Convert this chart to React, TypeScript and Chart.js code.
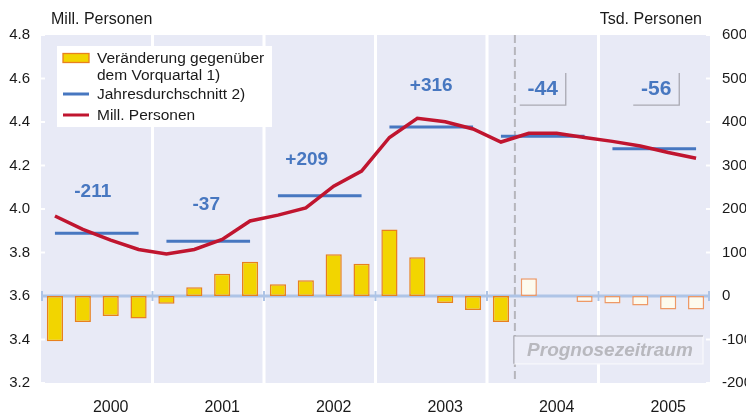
import React, { useEffect, useRef } from "react";
import { Chart, registerables } from "chart.js";

Chart.register(...registerables);

// ---------- data ----------
const years = ["2000", "2001", "2002", "2003", "2004", "2005"];
const quarterNames = ["Q1", "Q2", "Q3", "Q4"];
const quarters = years.flatMap((y) => quarterNames.map((q) => `${y} ${q}`));

// Veränderung gegenüber dem Vorquartal (Tsd. Personen, right axis)
const changeValues = [
  -104, -60, -46, -52,
  -18, 20, 51, 79,
  27, 36, 96, 74,
  153, 89, -16, -32,
  -60, 41, 0, -14,
  -17, -22, -31, -31,
];

// Mill. Personen (left axis)
const millPersonen = [
  3.968, 3.906, 3.857, 3.814,
  3.793, 3.814, 3.86, 3.945,
  3.972, 4.005, 4.105, 4.174,
  4.329, 4.417, 4.401, 4.368,
  4.308, 4.348, 4.348, 4.329,
  4.311, 4.29, 4.26, 4.233,
];

// Jahresdurchschnitt (left axis)
const annualAverage = [3.889, 3.852, 4.061, 4.377, 4.335, 4.277];
const annualChangeText = ["-211", "-37", "+209", "+316", "-44", "-56"];
const annualChangeLevel = [4.083, 4.023, 4.23, 4.57, 4.556, 4.556];
const boxedLabels = [false, false, false, false, true, true];

const forecastStartIndex = 17; // first forecast quarter (2004 Q2)
const forecastText = "Prognosezeitraum";
const forecastBoxRange = [-92, -156]; // right axis units, top/bottom

const leftMin = 3.2, leftMax = 4.8, leftStep = 0.2;
const rightMin = -200, rightMax = 600, rightStep = 100;

const leftTitle = "Mill. Personen";
const rightTitle = "Tsd. Personen";
const legendItems = [
  { kind: "bar", lines: ["Veränderung gegenüber", "dem Vorquartal 1)"] },
  { kind: "blue", lines: ["Jahresdurchschnitt 2)"] },
  { kind: "red", lines: ["Mill. Personen"] },
];

// ---------- styles ----------
const FONT = "'Liberation Sans', Arial, Helvetica, sans-serif";
const BG = "#E8EAF6";
const YELLOW = "#F2D500";
const ORANGE = "#E8801E";
const PALE = "#FDFBEE";
const PALE_BORDER = "#EE9966";
const RED = "#C0152F";
const BLUE = "#4777C0";
const ZERO = "#AEC4E6";
const TEXT = "#1a1a1a";
const labelShift = [-4, -2, -13, 0, 0, 2];

const decorPlugin = {
  id: "decor",
  beforeDraw(chart: any) {
    const { ctx, chartArea: a, scales } = chart;
    const x = scales.x;
    ctx.save();
    ctx.fillStyle = BG;
    ctx.fillRect(a.left, a.top, a.right - a.left, a.bottom - a.top);
    // year separators
    ctx.strokeStyle = "#ffffff";
    ctx.lineWidth = 3;
    for (let k = 1; k < years.length; k++) {
      const px = (x.getPixelForValue(4 * k - 1) + x.getPixelForValue(4 * k)) / 2;
      ctx.beginPath();
      ctx.moveTo(px, a.top);
      ctx.lineTo(px, a.bottom);
      ctx.stroke();
    }
    // forecast dashed line
    const fx = (x.getPixelForValue(forecastStartIndex - 1) + x.getPixelForValue(forecastStartIndex)) / 2;
    ctx.strokeStyle = "#B6B6BC";
    ctx.lineWidth = 2;
    ctx.setLineDash([8, 4]);
    ctx.beginPath();
    ctx.moveTo(fx, a.top);
    ctx.lineTo(fx, a.bottom);
    ctx.stroke();
    ctx.setLineDash([]);
    ctx.restore();
  },
  beforeDatasetsDraw(chart: any) {
    const { ctx, chartArea: a, scales } = chart;
    const x = scales.x;
    const y1 = scales.y1;
    const yl = scales.y;
    ctx.save();
    // tick marks (white dashes at inner edges)
    ctx.strokeStyle = "#ffffff";
    ctx.lineWidth = 2;
    yl.ticks.forEach((t: any) => {
      const py = yl.getPixelForValue(t.value);
      ctx.beginPath();
      ctx.moveTo(a.left, py);
      ctx.lineTo(a.left + 4, py);
      ctx.stroke();
    });
    y1.ticks.forEach((t: any) => {
      const py = y1.getPixelForValue(t.value);
      ctx.beginPath();
      ctx.moveTo(a.right - 4, py);
      ctx.lineTo(a.right, py);
      ctx.stroke();
    });
    // forecast box
    const fx = (x.getPixelForValue(forecastStartIndex - 1) + x.getPixelForValue(forecastStartIndex)) / 2;
    const bt = y1.getPixelForValue(forecastBoxRange[0]);
    const bb = y1.getPixelForValue(forecastBoxRange[1]);
    const br = a.right - 7;
    ctx.fillStyle = "#ECEDF7";
    ctx.fillRect(fx - 1, bt, br - fx + 1, bb - bt);
    ctx.lineWidth = 1.2;
    ctx.strokeStyle = "#F8F8FC";
    ctx.beginPath();
    ctx.moveTo(br, bt);
    ctx.lineTo(br, bb);
    ctx.lineTo(fx - 1, bb);
    ctx.stroke();
    ctx.strokeStyle = "#A8A8B0";
    ctx.beginPath();
    ctx.moveTo(fx - 1, bb);
    ctx.lineTo(fx - 1, bt);
    ctx.lineTo(br, bt);
    ctx.stroke();
    ctx.fillStyle = "#B8B8BE";
    ctx.font = `italic bold 19px ${FONT}`;
    ctx.textAlign = "center";
    ctx.textBaseline = "middle";
    ctx.fillText(forecastText, (fx + br) / 2 + 1, (bt + bb) / 2 + 1);
    // zero line
    const zy = y1.getPixelForValue(0);
    ctx.strokeStyle = ZERO;
    ctx.lineWidth = 3;
    ctx.beginPath();
    ctx.moveTo(a.left, zy);
    ctx.lineTo(a.right, zy);
    ctx.stroke();
    ctx.lineWidth = 2;
    for (let k = 0; k <= years.length; k++) {
      let px;
      if (k === 0) px = a.left + 1;
      else if (k === years.length) px = a.right - 1;
      else px = (x.getPixelForValue(4 * k - 1) + x.getPixelForValue(4 * k)) / 2;
      ctx.beginPath();
      ctx.moveTo(px, zy - 5);
      ctx.lineTo(px, zy + 5);
      ctx.stroke();
    }
    ctx.restore();
  },
  afterDatasetsDraw(chart: any) {
    const { ctx, chartArea: a, scales } = chart;
    const x = scales.x;
    const yl = scales.y;
    ctx.save();
    // annual change labels
    ctx.textAlign = "center";
    ctx.textBaseline = "middle";
    annualChangeText.forEach((txt, k) => {
      const cx = (x.getPixelForValue(4 * k + 1) + x.getPixelForValue(4 * k + 2)) / 2 + labelShift[k];
      const cy = yl.getPixelForValue(annualChangeLevel[k]);
      const boxed = boxedLabels[k];
      ctx.font = `bold ${boxed ? 21 : 19}px ${FONT}`;
      ctx.fillStyle = BLUE;
      ctx.fillText(txt, cx, cy + 1);
      if (boxed) {
        ctx.strokeStyle = "#A9A9B2";
        ctx.lineWidth = 1.3;
        ctx.beginPath();
        ctx.moveTo(cx + 23, cy - 15);
        ctx.lineTo(cx + 23, cy + 17);
        ctx.lineTo(cx - 23, cy + 17);
        ctx.stroke();
      }
    });
    // legend
    const lx = a.left + 16;
    const ly = a.top + 11;
    ctx.fillStyle = "#ffffff";
    ctx.fillRect(lx, ly, 215, 81);
    ctx.font = `15.5px ${FONT}`;
    ctx.textAlign = "left";
    ctx.textBaseline = "middle";
    const rowY = [ly + 12, ly + 48, ly + 69];
    legendItems.forEach((it, i) => {
      const yy = rowY[i];
      if (it.kind === "bar") {
        ctx.fillStyle = YELLOW;
        ctx.fillRect(lx + 6, yy - 4.5, 26, 9);
        ctx.strokeStyle = ORANGE;
        ctx.lineWidth = 1.3;
        ctx.strokeRect(lx + 6, yy - 4.5, 26, 9);
      } else {
        ctx.strokeStyle = it.kind === "blue" ? BLUE : RED;
        ctx.lineWidth = 3;
        ctx.beginPath();
        ctx.moveTo(lx + 6, yy);
        ctx.lineTo(lx + 32, yy);
        ctx.stroke();
      }
      ctx.fillStyle = TEXT;
      it.lines.forEach((ln, j) => ctx.fillText(ln, lx + 40, yy + 1 + j * 17));
    });
    ctx.restore();
  },
  afterDraw(chart: any) {
    const { ctx, chartArea: a } = chart;
    ctx.save();
    ctx.fillStyle = TEXT;
    ctx.font = `16px ${FONT}`;
    ctx.textBaseline = "middle";
    ctx.textAlign = "left";
    ctx.fillText(leftTitle, a.left + 10, 20);
    ctx.textAlign = "right";
    ctx.fillText(rightTitle, a.right - 8, 20);
    ctx.restore();
  },
};

export default function App() {
  const ref = useRef<HTMLCanvasElement | null>(null);

  useEffect(() => {
    if (!ref.current) return;
    const blueData = quarters.map((_, i) => annualAverage[Math.floor(i / 4)]);
    const chart = new Chart(ref.current, {
      type: "bar",
      data: {
        labels: quarters,
        datasets: [
          {
            type: "line",
            label: "Mill. Personen",
            data: millPersonen,
            yAxisID: "y",
            borderColor: RED,
            borderWidth: 3.5,
            pointRadius: 0,
            tension: 0,
            fill: false,
            order: 0,
          } as any,
          {
            type: "line",
            label: "Jahresdurchschnitt 2)",
            data: blueData,
            yAxisID: "y",
            borderColor: BLUE,
            borderWidth: 3,
            pointRadius: 0,
            tension: 0,
            fill: false,
            order: 1,
            segment: {
              borderColor: (c: any) =>
                Math.floor(c.p0DataIndex / 4) !== Math.floor(c.p1DataIndex / 4) ? "rgba(0,0,0,0)" : BLUE,
            },
          } as any,
          {
            type: "bar",
            label: "Veränderung gegenüber dem Vorquartal 1)",
            data: changeValues,
            yAxisID: "y1",
            backgroundColor: changeValues.map((_, i) => (i < forecastStartIndex ? YELLOW : PALE)),
            borderColor: changeValues.map((_, i) => (i < forecastStartIndex ? ORANGE : PALE_BORDER)),
            borderWidth: 1.5,
            borderSkipped: false,
            barPercentage: 0.58,
            categoryPercentage: 1,
            order: 2,
          } as any,
        ],
      },
      options: {
        responsive: false,
        animation: false,
        layout: { padding: { top: 35, left: 0, right: 0, bottom: 0 } },
        plugins: {
          legend: { display: false },
          tooltip: { enabled: false },
        },
        scales: {
          x: {
            type: "category",
            offset: true,
            grid: { display: false, drawTicks: false },
            border: { display: false },
            ticks: {
              autoSkip: false,
              maxRotation: 0,
              minRotation: 0,
              padding: 15,
              color: TEXT,
              font: { family: FONT, size: 16 },
              callback: (_v: any, i: number) => (i % 4 === 2 ? years[Math.floor(i / 4)] : ""),
            },
            afterFit: (s: any) => {
              s.height = 29;
            },
          },
          y: {
            position: "left",
            min: leftMin,
            max: leftMax,
            grid: { display: false, drawTicks: false },
            border: { display: false },
            ticks: {
              stepSize: leftStep,
              padding: 11,
              color: TEXT,
              font: { family: FONT, size: 15 },
              callback: (v: any) => Number(v).toFixed(1),
            },
            afterFit: (s: any) => {
              s.width = 41;
            },
          },
          y1: {
            position: "right",
            min: rightMin,
            max: rightMax,
            grid: { display: false, drawTicks: false },
            border: { display: false },
            ticks: {
              stepSize: rightStep,
              padding: 12,
              color: TEXT,
              font: { family: FONT, size: 15 },
              callback: (v: any) => String(Math.round(Number(v))),
            },
            afterFit: (s: any) => {
              s.width = 36;
            },
          },
        },
      } as any,
      plugins: [decorPlugin],
    });
    return () => chart.destroy();
  }, []);

  return (
    <div style={{ position: "absolute", left: 0, top: 0, width: 746, height: 412, background: "#fff" }}>
      <canvas ref={ref} width={746} height={412} style={{ display: "block" }} />
    </div>
  );
}
